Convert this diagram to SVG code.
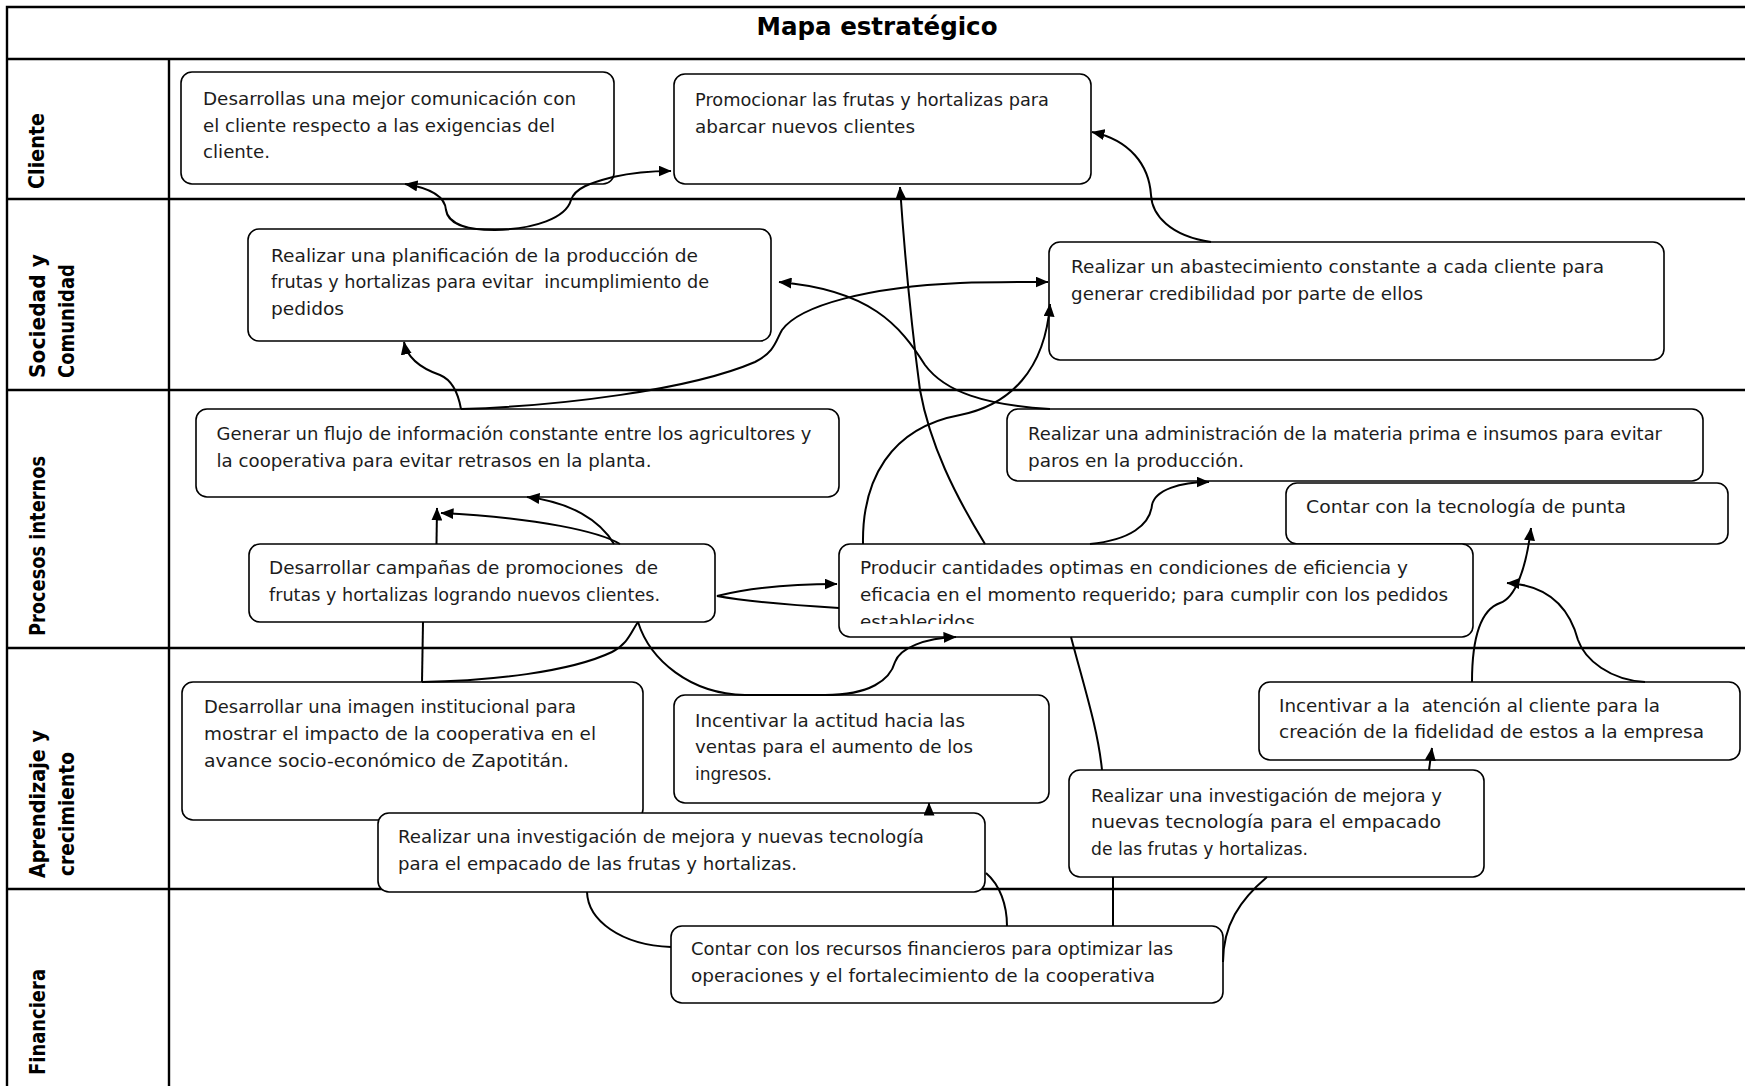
<svg xmlns="http://www.w3.org/2000/svg" width="1745" height="1086" viewBox="0 0 1745 1086">
  <defs>
    <marker id="arrow" viewBox="0 0 13 11" refX="12.5" refY="5.5" markerWidth="13" markerHeight="11" markerUnits="userSpaceOnUse" orient="auto-start-reverse">
      <path d="M0,0 L13,5.5 L0,11 z" fill="#000"/>
    </marker>
    <clipPath id="clip-n9">
      <rect x="839" y="544" width="634" height="80"/>
    </clipPath>
  </defs>
  <style>
    .grid { stroke: #000; stroke-width: 2.4; fill: none; }
    .box { fill: #fff; stroke: #000; stroke-width: 1.6; }
    .txt { font-family: "DejaVu Sans", "Liberation Sans", sans-serif; font-size: 18px; fill: #1c1c1c; white-space: pre; }
    .lane { font-family: "DejaVu Sans", "Liberation Sans", sans-serif; font-size: 22px; font-weight: bold; fill: #000; white-space: pre; }
    .title { font-family: "DejaVu Sans", "Liberation Sans", sans-serif; font-size: 24px; font-weight: bold; fill: #000; }
    .conn { fill: none; stroke: #000; stroke-width: 2; }
    .arr { marker-end: url(#arrow); }
  </style>

  <rect width="1745" height="1086" fill="#fff"/>

  <!-- table frame and lanes -->
  <g id="frame">
    <path class="grid" d="M7 1090 V7 H1750 M7 59 H1750 M7 199 H1750 M7 390 H1750 M7 648 H1750 M7 889 H1750 M169 59 V1090"/>
    <text class="title" x="877" y="35" text-anchor="middle" textLength="241" lengthAdjust="spacingAndGlyphs">Mapa estratégico</text>
  </g>

  <g id="lane-labels">
    <text class="lane" transform="translate(44,189) rotate(-90)" textLength="76" lengthAdjust="spacingAndGlyphs">Cliente</text>
    <text class="lane" transform="translate(45,378) rotate(-90)" textLength="124" lengthAdjust="spacingAndGlyphs">Sociedad y</text>
    <text class="lane" transform="translate(74,378) rotate(-90)" textLength="114" lengthAdjust="spacingAndGlyphs">Comunidad</text>
    <text class="lane" transform="translate(45,636) rotate(-90)" textLength="180" lengthAdjust="spacingAndGlyphs">Procesos internos</text>
    <text class="lane" transform="translate(45,878) rotate(-90)" textLength="148" lengthAdjust="spacingAndGlyphs">Aprendizaje y</text>
    <text class="lane" transform="translate(74,876) rotate(-90)" textLength="124" lengthAdjust="spacingAndGlyphs">crecimiento</text>
    <text class="lane" transform="translate(45,1075) rotate(-90)" textLength="106" lengthAdjust="spacingAndGlyphs">Financiera</text>
  </g>

  <!-- objectives -->
  <g id="n1">
    <rect class="box" x="181" y="72" width="433" height="112" rx="11"/>
    <text class="txt" x="203" y="105" textLength="373" lengthAdjust="spacingAndGlyphs">Desarrollas una mejor comunicación con</text>
    <text class="txt" x="203" y="131.7" textLength="352" lengthAdjust="spacingAndGlyphs">el cliente respecto a las exigencias del</text>
    <text class="txt" x="203" y="158.3" textLength="67" lengthAdjust="spacingAndGlyphs">cliente.</text>
  </g>
  <g id="n2">
    <rect class="box" x="674" y="74" width="417" height="110" rx="11"/>
    <text class="txt" x="695" y="106" textLength="354" lengthAdjust="spacingAndGlyphs">Promocionar las frutas y hortalizas para</text>
    <text class="txt" x="695" y="132.7" textLength="220" lengthAdjust="spacingAndGlyphs">abarcar nuevos clientes</text>
  </g>
  <g id="n3">
    <rect class="box" x="248" y="229" width="523" height="112" rx="11"/>
    <text class="txt" x="271" y="261.7" textLength="427" lengthAdjust="spacingAndGlyphs">Realizar una planificación de la producción de</text>
    <text class="txt" x="271" y="288.3" textLength="438" lengthAdjust="spacingAndGlyphs">frutas y hortalizas para evitar  incumplimiento de</text>
    <text class="txt" x="271" y="315" textLength="73" lengthAdjust="spacingAndGlyphs">pedidos</text>
  </g>
  <g id="n4">
    <rect class="box" x="1049" y="242" width="615" height="118" rx="11"/>
    <text class="txt" x="1071" y="273.3" textLength="533" lengthAdjust="spacingAndGlyphs">Realizar un abastecimiento constante a cada cliente para</text>
    <text class="txt" x="1071" y="300" textLength="352" lengthAdjust="spacingAndGlyphs">generar credibilidad por parte de ellos</text>
  </g>
  <g id="n5">
    <rect class="box" x="196" y="409" width="643" height="88" rx="11"/>
    <text class="txt" x="216.5" y="440" textLength="595" lengthAdjust="spacingAndGlyphs">Generar un flujo de información constante entre los agricultores y</text>
    <text class="txt" x="216.5" y="466.7" textLength="435" lengthAdjust="spacingAndGlyphs">la cooperativa para evitar retrasos en la planta.</text>
  </g>
  <g id="n6">
    <rect class="box" x="249" y="544" width="466" height="78" rx="11"/>
    <text class="txt" x="269" y="574.3" textLength="389" lengthAdjust="spacingAndGlyphs">Desarrollar campañas de promociones  de</text>
    <text class="txt" x="269" y="601" textLength="391" lengthAdjust="spacingAndGlyphs">frutas y hortalizas logrando nuevos clientes.</text>
  </g>
  <g id="n7">
    <rect class="box" x="1007" y="409" width="696" height="72" rx="11"/>
    <text class="txt" x="1028" y="440" textLength="634" lengthAdjust="spacingAndGlyphs">Realizar una administración de la materia prima e insumos para evitar</text>
    <text class="txt" x="1028" y="466.7" textLength="216" lengthAdjust="spacingAndGlyphs">paros en la producción.</text>
  </g>
  <g id="n8">
    <rect class="box" x="1286" y="483" width="442" height="61" rx="11"/>
    <text class="txt" x="1306" y="512.7" textLength="320" lengthAdjust="spacingAndGlyphs">Contar con la tecnología de punta</text>
  </g>
  <g id="n9">
    <rect class="box" x="839" y="544" width="634" height="93" rx="11"/>
    <g clip-path="url(#clip-n9)">
      <text class="txt" x="860" y="574.3" textLength="548" lengthAdjust="spacingAndGlyphs">Producir cantidades optimas en condiciones de eficiencia y</text>
      <text class="txt" x="860" y="601" textLength="588" lengthAdjust="spacingAndGlyphs">eficacia en el momento requerido; para cumplir con los pedidos</text>
      <text class="txt" x="860" y="627.7" textLength="115" lengthAdjust="spacingAndGlyphs">establecidos</text>
    </g>
  </g>
  <g id="n10">
    <rect class="box" x="182" y="682" width="461" height="138" rx="11"/>
    <text class="txt" x="204" y="713" textLength="372" lengthAdjust="spacingAndGlyphs">Desarrollar una imagen institucional para</text>
    <text class="txt" x="204" y="740" textLength="392" lengthAdjust="spacingAndGlyphs">mostrar el impacto de la cooperativa en el</text>
    <text class="txt" x="204" y="766.7" textLength="365" lengthAdjust="spacingAndGlyphs">avance socio-económico de Zapotitán.</text>
  </g>
  <g id="n11">
    <rect class="box" x="674" y="695" width="375" height="108" rx="11"/>
    <text class="txt" x="695" y="726.7" textLength="270" lengthAdjust="spacingAndGlyphs">Incentivar la actitud hacia las</text>
    <text class="txt" x="695" y="753.3" textLength="278" lengthAdjust="spacingAndGlyphs">ventas para el aumento de los</text>
    <text class="txt" x="695" y="780" textLength="77" lengthAdjust="spacingAndGlyphs">ingresos.</text>
  </g>
  <g id="n12">
    <rect class="box" x="378" y="813" width="607" height="79" rx="11"/>
    <text class="txt" x="398" y="843.3" textLength="526" lengthAdjust="spacingAndGlyphs">Realizar una investigación de mejora y nuevas tecnología</text>
    <text class="txt" x="398" y="870" textLength="399" lengthAdjust="spacingAndGlyphs">para el empacado de las frutas y hortalizas.</text>
  </g>
  <g id="n13">
    <rect class="box" x="1069" y="770" width="415" height="107" rx="11"/>
    <text class="txt" x="1091" y="801.7" textLength="351" lengthAdjust="spacingAndGlyphs">Realizar una investigación de mejora y</text>
    <text class="txt" x="1091" y="828.3" textLength="350" lengthAdjust="spacingAndGlyphs">nuevas tecnología para el empacado</text>
    <text class="txt" x="1091" y="855" textLength="217" lengthAdjust="spacingAndGlyphs">de las frutas y hortalizas.</text>
  </g>
  <g id="n14">
    <rect class="box" x="1259" y="682" width="481" height="78" rx="11"/>
    <text class="txt" x="1279" y="711.7" textLength="381" lengthAdjust="spacingAndGlyphs">Incentivar a la  atención al cliente para la</text>
    <text class="txt" x="1279" y="738.3" textLength="425" lengthAdjust="spacingAndGlyphs">creación de la fidelidad de estos a la empresa</text>
  </g>
  <g id="n15">
    <rect class="box" x="671" y="926" width="552" height="77" rx="11"/>
    <text class="txt" x="691" y="955" textLength="482" lengthAdjust="spacingAndGlyphs">Contar con los recursos financieros para optimizar las</text>
    <text class="txt" x="691" y="981.7" textLength="464" lengthAdjust="spacingAndGlyphs">operaciones y el fortalecimiento de la cooperativa</text>
  </g>

  <!-- cause-effect links -->
  <g id="connectors">
    <path class="conn arr" marker-start="url(#arrow)" d="M405 184 C430 188 445 196 446 210 C448 225 470 230 495 230 C535 229 566 218 571 200 C575 188 590 183 613 177 C635 172 650 171 671 171"/>
    <path class="conn arr" d="M1211 242 C1170 236 1152 215 1151 195 C1149 165 1130 140 1092 132"/>
    <path class="conn arr" d="M985 544 C955 495 930 445 920 390 C912 330 905 260 900 187"/>
    <path class="conn arr" d="M1050 409 C985 405 945 392 925 365 C900 325 870 290 779 282"/>
    <path class="conn arr" d="M461 409 C458 392 452 380 440 375 C420 368 407 358 404 342"/>
    <path class="conn arr" d="M461 409 C560 406 690 390 755 362 C775 352 776 340 782 330 C800 305 870 287 960 283 C990 282 1020 282 1048 282"/>
    <path class="conn arr" d="M863 544 C862 480 890 428 960 415 C1010 405 1045 370 1050 304"/>
    <path class="conn" d="M422 682 L423 622"/>
    <path class="conn arr" d="M436.5 544 L437 508"/>
    <path class="conn" d="M422 682 C490 681 570 672 612 652 C628 644 631 632 638 622"/>
    <path class="conn arr" d="M620 544 C600 532 540 518 441 513"/>
    <path class="conn arr" d="M614 544 C600 520 570 502 527 497"/>
    <path class="conn arr" d="M638 622 C650 660 690 694 745 695 L825 695 C870 695 890 680 895 662 C900 648 925 638 956 637"/>
    <path class="conn arr" d="M839 608 C790 605 750 602 717 596 C750 588 790 584 837 584"/>
    <path class="conn arr" d="M1090 544 C1130 540 1150 525 1152 505 C1155 490 1180 482 1209 482"/>
    <path class="conn arr" d="M1472 682 C1472 640 1480 610 1500 603 C1515 598 1526 570 1531 528"/>
    <path class="conn arr" d="M1645 682 C1610 680 1585 660 1578 640 C1570 610 1550 585 1507 583"/>
    <path class="conn arr" d="M1429 770 L1432 748"/>
    <path class="conn arr" d="M929 815 L929 803"/>
    <path class="conn" d="M671 947 C620 945 588 920 587 892"/>
    <path class="conn" d="M1007 926 C1007 905 1000 885 986 873"/>
    <path class="conn" d="M1113 926 L1113 877"/>
    <path class="conn" d="M1102 770 C1098 730 1085 690 1071 637"/>
    <path class="conn" d="M1223 962 C1223 925 1240 900 1267 877"/>
  </g>
</svg>
